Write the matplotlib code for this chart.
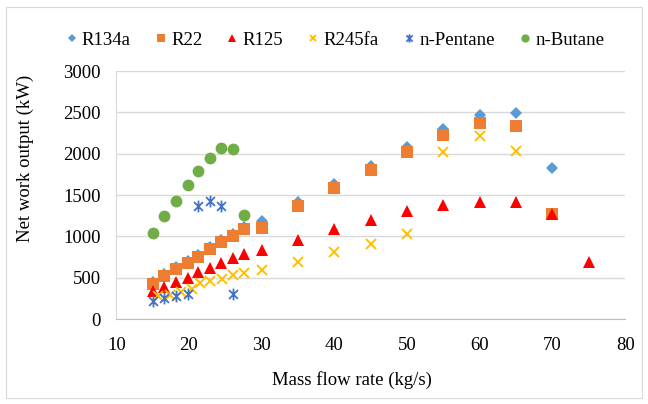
import matplotlib
matplotlib.use("Agg")
import matplotlib.pyplot as plt
from matplotlib.path import Path
from matplotlib.patches import Rectangle

# mass flow rates (kg/s)
x_low = [15.0, 16.6, 18.2, 19.8, 21.3, 22.9, 24.4, 26.0, 27.6]
x_high = [30, 35, 40, 45, 50, 55, 60, 65, 70]

r134a_x = x_low + x_high
r134a_y = [450, 545, 630, 700, 780, 868, 952, 1030, 1110,
           1190, 1415, 1630, 1855, 2080, 2295, 2465, 2490, 1825]

r22_x = x_low + x_high
r22_y = [426, 520, 605, 676, 756, 843, 928, 1004, 1085,
         1106, 1367, 1590, 1808, 2026, 2231, 2365, 2330, 1275]

r125_x = x_low + x_high + [75]
r125_y = [340, 390, 445, 495, 565, 620, 680, 735, 785,
          840, 961, 1094, 1203, 1303, 1385, 1416, 1416, 1275, 690]

r245fa_x = [15.8, 17.4, 18.9, 20.4, 21.5, 22.9, 24.5, 26.0, 27.6,
            30, 35, 40, 45, 50, 55, 60, 65]
r245fa_y = [278, 295, 327, 359, 436, 456, 489, 529, 557,
            598, 690, 811, 912, 1025, 2020, 2211, 2033]

pentane_x = [15.0, 16.6, 18.2, 19.8, 21.3, 22.9, 24.4, 26.0]
pentane_y = [220, 250, 280, 300, 1362, 1422, 1366, 307]

butane_x = x_low
butane_y = [1045, 1243, 1424, 1618, 1791, 1953, 2074, 2053, 1263]

plt.rcParams['font.family'] = ['Liberation Serif', 'DejaVu Serif']

# excel style asterisk: vertical bar plus an x
star = Path([(0, -1), (0, 1), (-0.75, -0.75), (0.75, 0.75), (-0.75, 0.75), (0.75, -0.75)],
            [Path.MOVETO, Path.LINETO] * 3)

fig = plt.figure(figsize=(6.48, 4.04), dpi=100)
fig.add_artist(Rectangle((6 / 648, 6 / 404), 636 / 648, 391 / 404, transform=fig.transFigure,
                         fill=False, edgecolor='#D9D9D9', linewidth=0.8))
ax = fig.add_axes([116.3 / 648, 1 - 319 / 404, (625.2 - 116.3) / 648, (319 - 71) / 404])

ax.plot(r134a_x, r134a_y, 'D', color='#5B9BD5', ms=6.5, mew=0, label='R134a')
ax.plot(r22_x, r22_y, 's', color='#ED7D31', ms=8, mew=0, label='R22')
ax.plot(r125_x, r125_y, '^', color='#FF0000', ms=8, mew=0, label='R125')
ax.plot(r245fa_x, r245fa_y, 'x', color='#FFC000', ms=7, mew=1.4, label='R245fa')
ax.plot(pentane_x, pentane_y, marker=star, ls='none', color='#4472C4', ms=8.5, mew=1.3, label='n-Pentane')
ax.plot(butane_x, butane_y, 'o', color='#70AD47', ms=8.5, mew=0, label='n-Butane')

ax.set_xlim(10, 80)
ax.set_ylim(0, 3000)
ax.set_xticks(range(10, 81, 10))
ax.set_yticks(range(0, 3001, 500))
ax.grid(axis='y', color='#D9D9D9', linewidth=1)
ax.set_axisbelow(True)
ax.tick_params(length=0, labelsize=13.5, colors='#000000')
ax.tick_params(axis='y', pad=11)
ax.tick_params(axis='x', pad=13)
for s in ['top', 'right']:
    ax.spines[s].set_visible(False)
ax.spines['left'].set_color('#D9D9D9')
ax.spines['bottom'].set_color('#BFBFBF')

fig.text(352 / 648, 1 - 380 / 404, 'Mass flow rate (kg/s)', ha='center', va='center', fontsize=13.5)
fig.text(25 / 648, 1 - 158 / 404, 'Net work output (kW)', ha='center', va='center',
         rotation=90, fontsize=13.5)

fig.legend(loc='center', bbox_to_anchor=(335 / 648, 1 - 40 / 404), ncol=6, frameon=False,
           fontsize=13.5, handlelength=0.6, handletextpad=0.25, columnspacing=1.3, markerscale=0.7)

fig.savefig('out.png', dpi=100)
